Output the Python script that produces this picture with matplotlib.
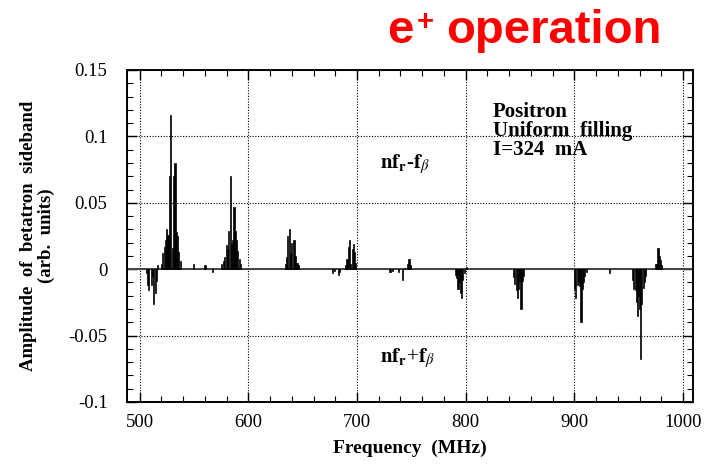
import numpy as np
from matplotlib import pyplot as plt
from matplotlib.ticker import MultipleLocator

# sideband spectrum: frequency (MHz) and amplitude (arb. units)
freq = [
    506.1, 507.4, 508.3, 511.4, 512.3, 513.2, 514.4, 515.4, 516.3,
    520.0, 521.3, 522.6, 523.8, 525.0, 526.2, 527.5, 528.8, 530.1, 531.3,
    532.6, 533.8, 535.0, 536.2, 537.5,
    549.7, 560.2, 567.0,
    575.2, 577.0, 578.3, 579.6, 580.9, 582.2, 583.4, 584.6, 585.8, 586.9,
    588.0, 589.2, 590.5, 591.8, 593.0,
    634.0, 635.2, 636.4, 637.6, 638.8, 640.0, 641.2, 642.4, 643.6, 644.8, 646.0,
    677.4, 679.0, 682.6, 684.0,
    689.5, 690.8, 692.0, 692.9, 694.2, 695.5, 696.6, 697.6, 698.8,
    729.6, 731.0, 732.6, 737.9, 741.9, 744.0, 746.8, 747.8, 749.0,
    790.4, 791.6, 792.9, 794.1, 795.2, 796.2, 797.4, 798.6, 800.5,
    844.0, 845.2, 846.3, 847.2, 848.4, 849.6, 850.8, 852.0, 853.2,
    900.2, 901.3, 902.4, 903.6, 904.8, 906.0, 907.2, 908.4, 909.6, 911.0,
    932.2,
    953.5, 954.7, 955.8, 956.8, 957.6, 958.6, 959.8, 960.9, 962.0, 963.2,
    964.4, 965.5,
    974.8, 975.9, 976.8, 977.8, 979.0, 980.2,
]
amplitude = [
    -0.003, -0.012, -0.016, -0.012, -0.005, -0.026, -0.018, -0.009, 0.003,
    0.004, 0.012, 0.017, 0.022, 0.030, 0.026, 0.070, 0.116, 0.016, 0.070,
    0.080, 0.028, 0.025, 0.013, 0.006,
    0.004, 0.003, -0.002,
    0.004, 0.006, 0.009, 0.018, 0.015, 0.029, 0.070, 0.019, 0.022, 0.047,
    0.029, 0.022, 0.014, 0.008, 0.004,
    0.004, 0.009, 0.025, 0.030, 0.012, 0.020, 0.022, 0.022, 0.010, 0.005, 0.003,
    -0.003, -0.001, -0.004, -0.002,
    0.003, 0.008, 0.017, 0.022, 0.004, 0.015, 0.019, 0.013, 0.005,
    -0.002, -0.002, -0.001, -0.002, -0.008, 0.001, 0.004, 0.008, 0.003,
    -0.004, -0.007, -0.015, -0.010, -0.018, -0.022, -0.008, -0.003, 0.002,
    -0.006, -0.011, -0.016, -0.022, -0.015, -0.009, -0.030, -0.009, -0.005,
    -0.015, -0.022, -0.012, -0.010, -0.013, -0.040, -0.015, -0.010, -0.005, -0.002,
    -0.003,
    -0.008, -0.015, -0.016, -0.025, -0.035, -0.020, -0.030, -0.068, -0.026, -0.014,
    -0.010, -0.005,
    0.004, 0.004, 0.016, 0.010, 0.007, 0.003,
]

x_ticks = [500, 600, 700, 800, 900, 1000]
y_ticks = [-0.1, -0.05, 0, 0.05, 0.1, 0.15]
y_ticklabels = ["-0.1", "-0.05", "0", "0.05", "0.1", "0.15"]

plt.rcParams["font.family"] = "Liberation Serif"
plt.rcParams["mathtext.fontset"] = "stix"

fig = plt.figure(figsize=(7.12, 4.65), dpi=100)
ax = fig.add_axes([0.1784, 0.1355, 0.7949, 0.714])

ax.bar(freq, amplitude, width=1.0, color="black", edgecolor="black", linewidth=0.5, zorder=3)
ax.axhline(0, color="#444444", linewidth=1.4, zorder=2)

ax.set_xlim(488.5, 1009)
ax.set_ylim(-0.1, 0.15)
ax.set_xticks(x_ticks)
ax.set_yticks(y_ticks)
ax.set_yticklabels(y_ticklabels)
ax.xaxis.set_minor_locator(MultipleLocator(20))
ax.yaxis.set_minor_locator(MultipleLocator(0.01))
ax.tick_params(which="both", direction="in", top=True, right=True, labelsize=13.5)
ax.tick_params(which="major", length=7, width=1.0, pad=9)
ax.tick_params(which="minor", length=4, width=0.8)
ax.tick_params(axis="y", which="major", pad=14)
ax.grid(True, which="major", linestyle=(0, (1, 1.5)), color="black", linewidth=0.8)
for s in ax.spines.values():
    s.set_linewidth(1.4)

ax.set_xlabel("Frequency  (MHz)", fontsize=14, fontweight="bold", labelpad=6)
ax.set_ylabel("Amplitude  of  betatron  sideband\n(arb.  units)", fontsize=13.5,
              fontweight="bold", labelpad=10, linespacing=1.0)

ax.text(721, 0.079, r"$\mathbf{nf_r}$-$\mathbf{f}_\beta$", fontsize=15, va="center", ha="left")
ax.text(721, -0.067, r"$\mathbf{nf_r}$+$\mathbf{f}_\beta$", fontsize=15, va="center", ha="left")

ax.text(825, 0.1145, "Positron", fontsize=15, fontweight="bold", va="baseline")
ax.text(825, 0.1000, "Uniform  filling", fontsize=15, fontweight="bold", va="baseline")
ax.text(825, 0.0862, "I=324  mA", fontsize=15, fontweight="bold", va="baseline")

red = "#ff0000"
fig.text(387 / 712, 1 - 43 / 465, "e", fontsize=34, fontweight="bold", color=red,
         family="Liberation Sans", va="baseline")
fig.text(417 / 712, 1 - 30 / 465, "+", fontsize=21, fontweight="bold", color=red,
         family="Liberation Sans", va="baseline")
fig.text(446 / 712, 1 - 43 / 465, "operation", fontsize=34, fontweight="bold", color=red,
         family="Liberation Sans", va="baseline")

fig.savefig("out.png", dpi=100)
